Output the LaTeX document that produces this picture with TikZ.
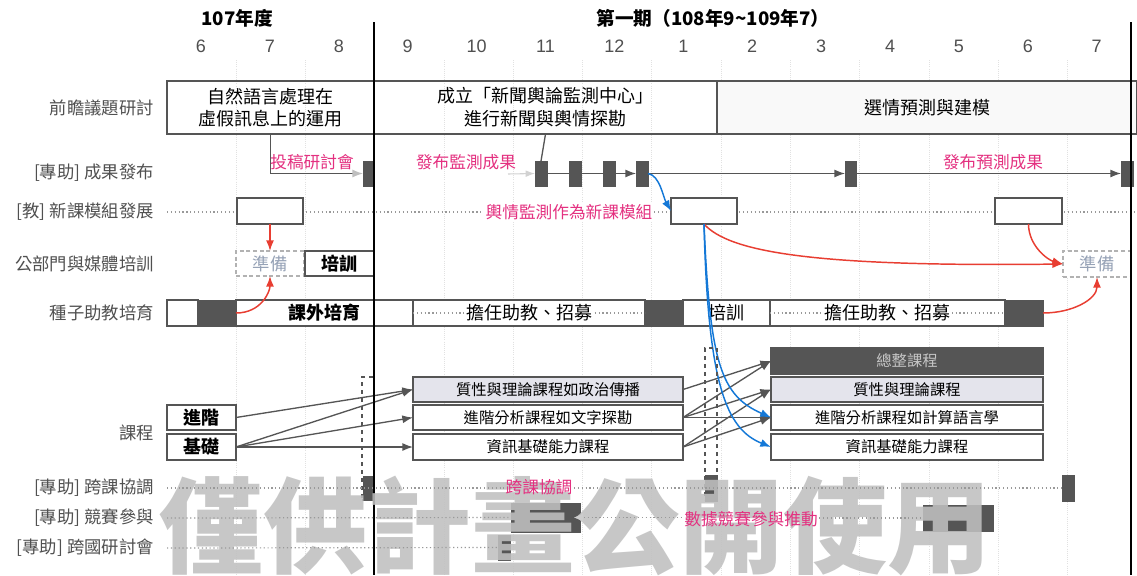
\documentclass[tikz,border=0pt]{standalone}
\usepackage{fontspec}
\setmainfont{Noto Sans CJK TC}
\newfontfamily\numfont{Liberation Sans}
\usetikzlibrary{arrows.meta}
\definecolor{labgray}{RGB}{80,80,80}
\definecolor{framegray}{RGB}{85,85,85}
\definecolor{darkfill}{RGB}{85,85,85}
\definecolor{conngray}{RGB}{85,85,85}
\definecolor{lav}{RGB}{228,228,236}
\definecolor{pinkc}{RGB}{228,48,128}
\definecolor{bluec}{RGB}{20,120,215}
\definecolor{redc}{RGB}{232,62,50}
\definecolor{prepgray}{RGB}{150,162,182}
\definecolor{wmgray}{RGB}{192,192,192}
\definecolor{gridc}{RGB}{225,225,225}
\newcommand{\mybox}[7]{\node[#1, inner sep=0pt, outer sep=0pt,
  minimum width={(#5-#3)*0.75pt}, minimum height={(#6-#4)*0.75pt}]
  (#2) at ({(#3+#5)/2},{(#4+#6)/2}) {#7};}
\begin{document}
\begin{tikzpicture}[x=0.75pt,y=-0.75pt,
  rowlab/.style={anchor=east, text=labgray, inner sep=0pt, font=\fontsize{13}{15}\selectfont},
  month/.style={text=labgray, font=\numfont\fontsize{13.5}{16}\selectfont},
  hdr/.style={text=black, font=\bfseries\fontsize{14}{16}\selectfont},
  bframe/.style={draw=framegray, line width=1pt},
  topbox/.style={bframe, align=center, font=\fontsize{13.5}{17}\selectfont},
  darkbox/.style={draw=darkfill, fill=darkfill},
  whitebox/.style={bframe, fill=white},
  prepbox/.style={draw=gray!60, densely dashed, line width=0.9pt, fill=white, text=prepgray, font=\fontsize{13}{15}\selectfont},
  boldbox/.style={bframe, fill=white, font=\bfseries\fontsize{13.5}{16}\selectfont},
  segbox/.style={bframe, fill=white, font=\fontsize{13.5}{16}\selectfont},
  course/.style={bframe, fill=white, font=\fontsize{11.5}{14}\selectfont},
  lavcourse/.style={course, fill=lav},
  pinklab/.style={text=pinkc, font=\fontsize{12.5}{15}\selectfont, inner sep=1pt},
  conn/.style={draw=conngray, line width=1pt},
  tip/.style={-{Latex[length=8pt,width=6pt]}},
  dotline/.style={draw=gray!80, line width=0.9pt, dotted},
  bluearr/.style={draw=bluec, line width=1.1pt, -{Latex[length=8pt,width=6pt]}},
  redarr/.style={draw=redc, line width=1.1pt, -{Latex[length=8pt,width=6pt]}},
  dashrect/.style={draw=framegray, line width=0.8pt, dashed}
]
\useasboundingbox (0,0) rectangle (1137,575);
\fill[white] (0,0) rectangle (1137,575);

% faint grid
\foreach \gx in {236,305,444,513,582,651,721,790,859,929,998,1067}
  \draw[gridc, densely dotted, line width=0.6pt] (\gx,60) -- (\gx,575);

% headers
\node[hdr] (h107) at (237,18) {107年度};
\node[hdr] (h108) at (713,18) {第一期（108年9\textasciitilde109年7）};
\foreach \m [count=\i from 0] in {6,7,8,9,10,11,12,1,2,3,4,5,6,7}
  \node[month] (m\i) at (201+68.9*\i,46) {\m};

% row labels
\node[rowlab] (L1) at (154,108) {前瞻議題研討};
\node[rowlab] (L2) at (154,173) {[專助] 成果發布};
\node[rowlab] (L3) at (154,212) {[教] 新課模組發展};
\node[rowlab] (L4) at (154,264) {公部門與媒體培訓};
\node[rowlab] (L5) at (154,313) {種子助教培育};
\node[rowlab] (L6) at (154,433) {課程};
\node[rowlab] (L7) at (154,488) {[專助] 跨課協調};
\node[rowlab] (L8) at (154,518) {[專助] 競賽參與};
\node[rowlab] (L9) at (154,548) {[專助] 跨國研討會};

% row 1
\mybox{topbox}{b1}{167}{81}{374}{134}{自然語言處理在\\虛假訊息上的運用}
\mybox{topbox}{b2}{374}{81}{717}{134}{成立「新聞輿論監測中心」\\進行新聞與輿情探勘}
\mybox{topbox, fill=gray!5}{b3}{717}{81}{1137}{134}{選情預測與建模}

% row 2
\mybox{darkbox}{r0}{363}{161}{374}{186}{}
\mybox{darkbox}{r1}{535}{161}{547}{186}{}
\mybox{darkbox}{r2}{569}{161}{581}{186}{}
\mybox{darkbox}{r3}{603}{161}{615}{186}{}
\mybox{darkbox}{r4}{636}{161}{648}{186}{}
\mybox{darkbox}{r5}{845}{161}{856}{186}{}
\mybox{darkbox}{r6}{1121}{161}{1133}{186}{}
\draw[conn, -{Latex[length=8pt,width=6pt,color=gray!50]}] (b1.south) |- (r0.west);
\draw[conn] (b2.south) -- (r1.north);
\draw[conn] (r1.east) -- (r2.west);
\draw[conn] (r2.east) -- (r3.west);
\draw[conn, tip] (r3.east) -- (r4.west);
\draw[conn, tip] (r4.east) -- (r5.west);
\draw[conn, tip] (r5.east) -- (r6.west);
\node[pinklab] (p2lab1) at (312,162) {投稿研討會};
\node[pinklab] (p2lab2) at (466,162) {發布監測成果};
\node[pinklab] (p2lab3) at (993,162) {發布預測成果};
\coordinate (fa) at (508,174);
\draw[draw=gray!35, line width=0.8pt, -{Latex[length=7pt,width=5pt]}] (fa) -- (r1.west);

% row 3
\draw[dotline] (167,212) -- (1137,212);
\mybox{whitebox}{c1}{237}{198}{303}{224}{}
\mybox{whitebox}{c2}{671}{198}{737}{224}{}
\mybox{whitebox}{c3}{995}{198}{1062}{224}{}
\node[pinklab, fill=white, anchor=east] (p3lab) at (654,212) {輿情監測作為新課模組};
\draw[bluearr] (r4.east) .. controls +(12,2) and +(-8,-14) .. (c2.west);

% row 4
\mybox{prepbox}{p1}{236}{251}{304}{276}{準備}
\mybox{boldbox}{t1}{305}{251}{374}{276}{培訓}
\mybox{prepbox}{p2}{1063}{251}{1131}{277}{準備}

% row 5
\mybox{segbox}{s0}{167}{300}{198}{326}{}
\mybox{darkbox}{d1}{198}{300}{236}{326}{}
\mybox{boldbox}{s1}{236}{300}{413}{326}{課外培育}
\mybox{segbox}{s2}{413}{300}{645}{326}{}
\mybox{darkbox}{d2}{645}{300}{683}{326}{}
\mybox{segbox}{s3}{683}{300}{770}{326}{培訓}
\mybox{segbox}{s4}{770}{300}{1005}{326}{}
\mybox{darkbox}{d4}{1005}{300}{1043}{326}{}
\draw[dotline] (s2.west) -- (s2.east);
\draw[dotline] (s4.west) -- (s4.east);
\node[fill=white, inner sep=1pt, font=\fontsize{13.5}{16}\selectfont] (s2t) at (s2.center) {擔任助教、招募};
\node[fill=white, inner sep=1pt, font=\fontsize{13.5}{16}\selectfont] (s4t) at (s4.center) {擔任助教、招募};

% red arrows
\draw[redarr] (c1.south) -- (p1.north);
\draw[redarr] (d1.east) .. controls +(25,0) and +(0,16) .. (p1.south);
\draw[redarr] (c2.south) .. controls +(25,28) and +(-250,3) .. (p2.west);
\draw[redarr] (c3.south) .. controls +(0,22) and +(-15,-4) .. (p2.west);
\draw[redarr] (d4.east) .. controls +(30,0) and +(0,22) .. (p2.south);

% courses
\mybox{boldbox}{n1}{167}{405}{236}{430}{進階}
\mybox{boldbox}{n2}{167}{434}{236}{460}{基礎}
\mybox{lavcourse}{mA}{413}{377}{683}{402}{質性與理論課程如政治傳播}
\mybox{course}{mB}{413}{405}{683}{430}{進階分析課程如文字探勘}
\mybox{course}{mC}{413}{434}{683}{460}{資訊基礎能力課程}
\mybox{course, fill=darkfill, text=gray!45}{e1}{771}{348}{1043}{374}{總整課程}
\mybox{lavcourse}{e2}{771}{377}{1043}{402}{質性與理論課程}
\mybox{course}{e3}{771}{405}{1043}{430}{進階分析課程如計算語言學}
\mybox{course}{e4}{771}{434}{1043}{460}{資訊基礎能力課程}

\draw[conn, tip] (n1.east) -- (mA.west);
\draw[conn, tip] (n2.east) -- (mA.west);
\draw[conn, tip] (n2.east) -- (mB.west);
\draw[conn, tip] (n2.east) -- (mC.west);
\draw[conn, tip] (mA.east) -- (e1.west);
\draw[conn, tip] (mB.east) -- (e1.west);
\draw[conn, tip] (mB.east) -- (e2.west);
\draw[conn, tip] (mB.east) -- (e3.west);
\draw[conn, tip] (mC.east) -- (e2.west);
\draw[conn, tip] (mC.east) -- (e3.west);

\draw[bluearr] (c2.south) .. controls +(6,140) and +(-50,-22) .. (e3.west);
\draw[bluearr] (c2.south) .. controls +(4,160) and +(-45,-18) .. (e4.west);

% dashed markers
\mybox{dashrect}{q1}{362}{377}{374}{500}{}
\mybox{dashrect}{q2}{705}{348}{717}{500}{}
\mybox{darkbox}{k1}{363}{476}{374}{500}{}
\mybox{darkbox}{k2}{705}{475}{717}{501}{}

% bottom rows: boxes
\mybox{darkbox}{k3}{1062}{475}{1074}{501}{}
\mybox{darkbox}{g1}{511}{503}{580}{532}{}
\mybox{darkbox}{g2}{923}{505}{993}{531}{}
\mybox{darkbox}{h1}{498}{535}{510}{560}{}

% period dividers
\draw[line width=1.9pt] (374,22) -- (374,575);
\draw[line width=1.9pt] (1131,22) -- (1131,575);

% watermark
\node[text=wmgray, text opacity=0.88, font=\bfseries\fontsize{78}{80}\selectfont, inner sep=0pt] (wm) at (575,526) {僅供計畫公開使用};

% bottom row labels and dotted guide lines, over the watermark
\node[pinklab] (p7lab) at (539,487) {跨課協調};
\node[pinklab] (p8lab) at (751,519) {數據競賽參與推動};
\coordinate (d7) at (167,488);
\draw[dotline] (d7) -- (p7lab.west |- d7);
\draw[dotline] (p7lab.east |- d7) -- (k3.west);
\coordinate (d8) at (167,518);
\draw[dotline] (d8) -- (g1.west);
\draw[dotline] (g1.east) -- (p8lab.west |- g1.east);
\draw[dotline] (p8lab.east |- g2.west) -- (g2.west);
\draw[draw=gray!40, {Latex[length=7pt,width=7pt]}-] ([xshift=-4.5pt]g1.east) -- (g1.east);
\coordinate (d9) at (167,548);
\draw[dotline] (d9) -- (h1.west);
\end{tikzpicture}
\end{document}
